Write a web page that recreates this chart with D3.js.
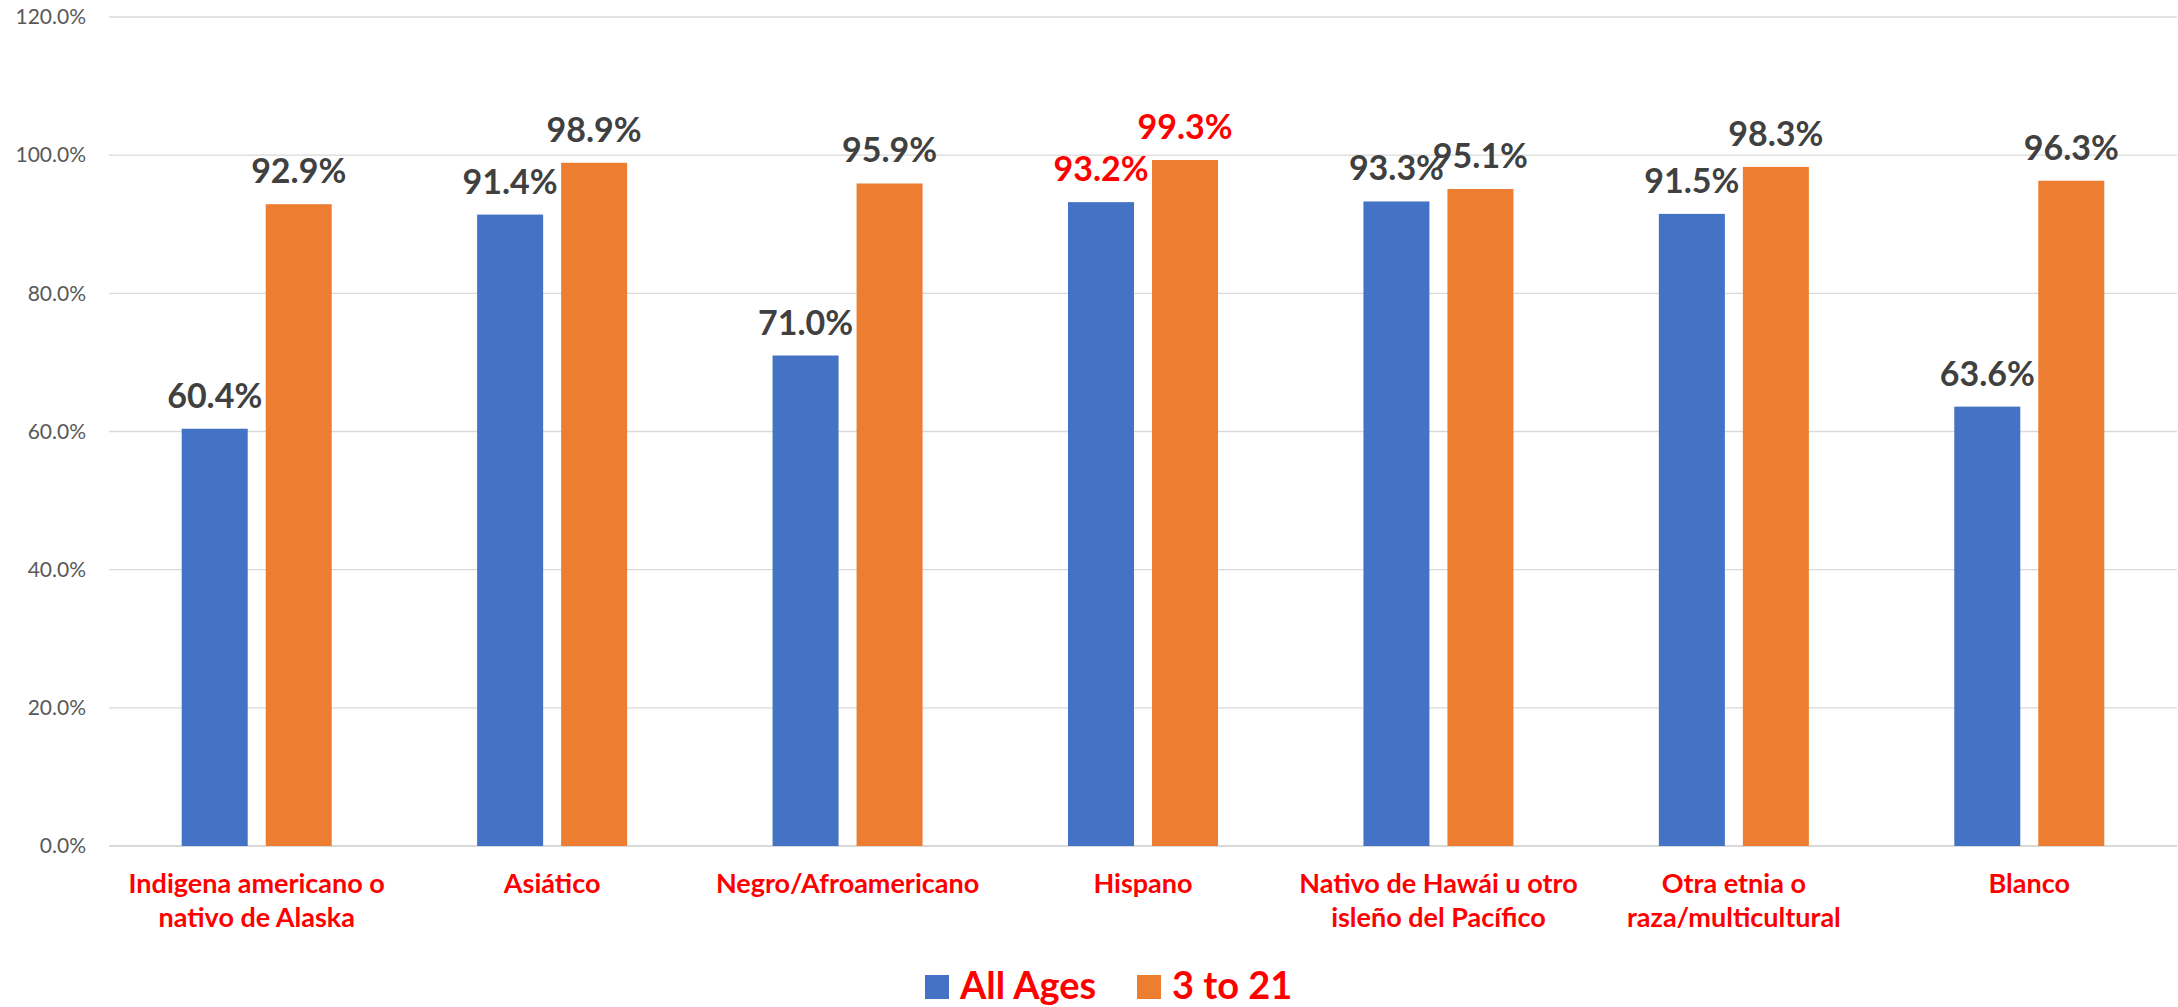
<!DOCTYPE html>
<html>
<head>
<meta charset="utf-8">
<script src="https://cdn.jsdelivr.net/npm/d3@7"></script>
<style>
html,body{margin:0;padding:0;background:#fff;}
svg{display:block;}
</style>
</head>
<body>
<svg id="chart" width="2178" height="1007"></svg>
<script>
const categories = [
  "Indigena americano o\nnativo de Alaska",
  "Asiático",
  "Negro/Afroamericano",
  "Hispano",
  "Nativo de Hawái u otro\nisleño del Pacífico",
  "Otra etnia o\nraza/multicultural",
  "Blanco"
];
const seriesNames = ["All Ages", "3 to 21"];
const allAges = [60.4, 91.4, 71.0, 93.2, 93.3, 91.5, 63.6];
const age3to21 = [92.9, 98.9, 95.9, 99.3, 95.1, 98.3, 96.3];
const yTicks = [0, 20, 40, 60, 80, 100, 120];
const highlightCategory = "Hispano";

const colors = ["#4472C4", "#ED7D31"];
const FONT = "Lato, 'Open Sans', sans-serif";

const svg = d3.select("#chart");
const plotLeft = 109, plotRight = 2177, plotTop = 17, plotBottom = 846;

const y = d3.scaleLinear().domain([0, 120]).range([plotBottom, plotTop]);
const x0 = d3.scaleBand().domain(categories).range([plotLeft, plotRight]).padding(0);
const groupW = 150;
const x1 = d3.scaleBand().domain(seriesNames).range([0, groupW]).paddingInner(18/84).paddingOuter(0);

// gridlines
const grid = svg.append("g");
grid.selectAll("line").data(yTicks).join("line")
  .attr("x1", plotLeft).attr("x2", plotRight)
  .attr("y1", d => y(d)).attr("y2", d => y(d))
  .attr("stroke", "#d9d9d9")
  .attr("stroke-width", d => d === 0 ? 2 : 1.4);

// y axis labels
const yAxis = d3.axisLeft(y).tickValues(yTicks).tickFormat(d => d3.format(".1f")(d) + "%").tickSize(0).tickPadding(23);
const yg = svg.append("g").attr("transform", `translate(${plotLeft},0)`).call(yAxis);
yg.select(".domain").remove();
yg.selectAll("text").attr("font-family", FONT).attr("font-size", 21).attr("fill", "#595959");

const data = categories.map((c, i) => ({cat: c, vals: [allAges[i], age3to21[i]]}));

const groups = svg.append("g").selectAll("g").data(data).join("g")
  .attr("transform", d => `translate(${x0(d.cat) + (x0.bandwidth() - groupW) / 2},0)`);

groups.selectAll("rect").data(d => d.vals.map((v, j) => ({s: seriesNames[j], v, j}))).join("rect")
  .attr("x", d => x1(d.s))
  .attr("width", x1.bandwidth())
  .attr("y", d => y(d.v))
  .attr("height", d => y(0) - y(d.v))
  .attr("fill", d => colors[d.j]);

groups.selectAll("text.lbl").data(d => d.vals.map((v, j) => ({s: seriesNames[j], v, j, cat: d.cat}))).join("text")
  .attr("class", "lbl")
  .attr("x", d => x1(d.s) + x1.bandwidth() / 2)
  .attr("y", d => y(d.v) - 21)
  .attr("text-anchor", "middle")
  .attr("font-family", FONT).attr("font-weight", "bold").attr("font-size", 34)
  .attr("fill", d => d.cat === highlightCategory ? "#FF0000" : "#404040")
  .text(d => d3.format(".1f")(d.v) + "%");

// category labels
const catG = svg.append("g");
categories.forEach(c => {
  const lines = c.split("\n");
  const t = catG.append("text")
    .attr("x", x0(c) + x0.bandwidth() / 2)
    .attr("y", 893)
    .attr("text-anchor", "middle")
    .attr("font-family", FONT).attr("font-weight", "bold").attr("font-size", 27)
    .attr("fill", "#FF0000");
  lines.forEach((l, k) => {
    t.append("tspan").attr("x", x0(c) + x0.bandwidth() / 2).attr("dy", k === 0 ? 0 : 34).text(l);
  });
});

// legend
const legendX = [925, 1137];
const lg = svg.append("g");
seriesNames.forEach((s, i) => {
  lg.append("rect").attr("x", legendX[i]).attr("y", 975).attr("width", 24).attr("height", 24).attr("fill", colors[i]);
  lg.append("text").attr("x", legendX[i] + 35).attr("y", 999)
    .attr("font-family", FONT).attr("font-weight", "bold").attr("font-size", 38)
    .attr("fill", "#FF0000").text(s);
});
</script>
</body>
</html>
